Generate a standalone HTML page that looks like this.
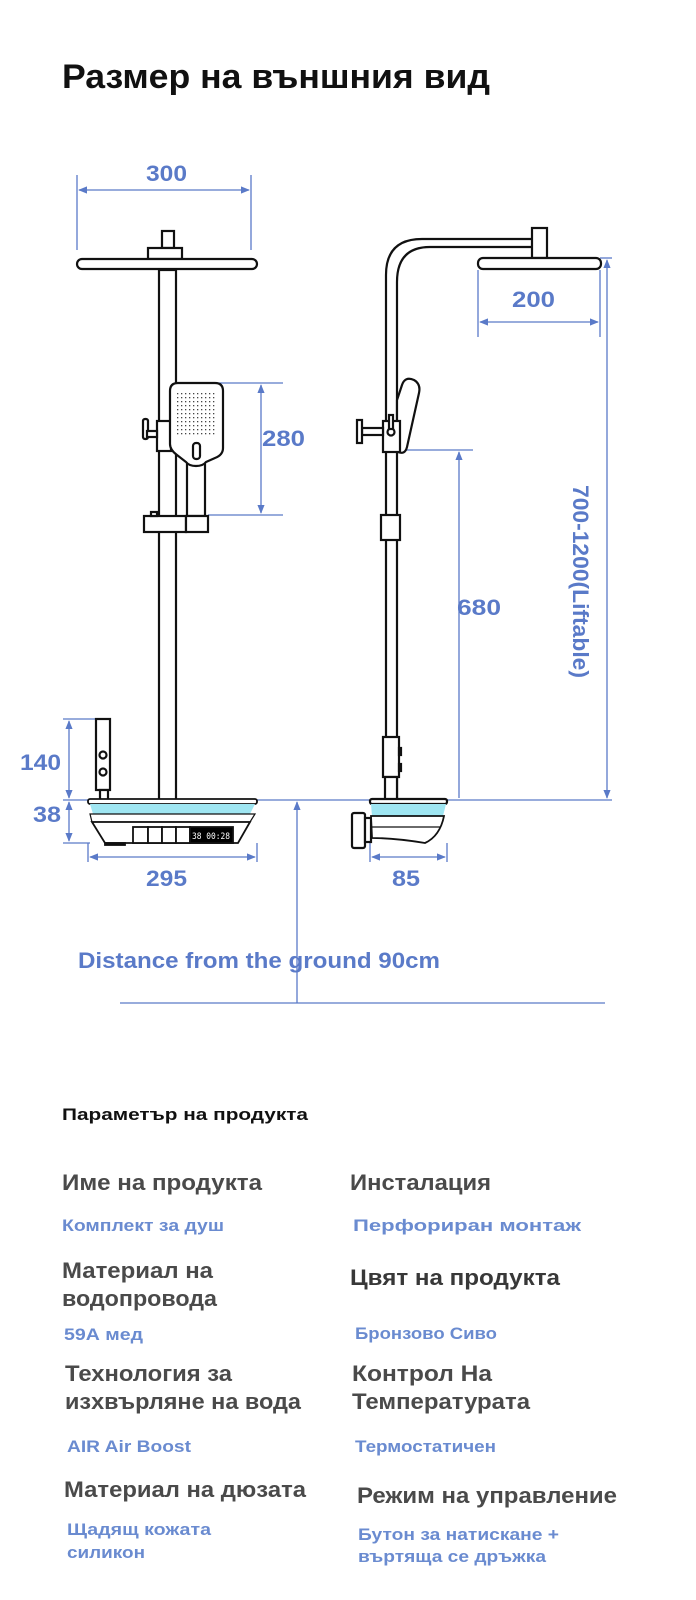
<!DOCTYPE html>
<html><head><meta charset="utf-8"><style>
html,body{margin:0;padding:0;background:#fff;width:696px;height:1600px;overflow:hidden}
svg{display:block}
text{font-family:"Liberation Sans","DejaVu Sans",sans-serif;font-weight:bold}
.d{fill:#5a7ac8;font-size:22px}
.l{fill:#4a4a4a;font-size:22px}
.v{fill:#6a8bd0;font-size:17px}
</style></head><body>
<svg width="696" height="1600" viewBox="0 0 696 1600" xmlns="http://www.w3.org/2000/svg">
<defs>
<marker id="a" viewBox="0 0 10 10" refX="9" refY="5" markerWidth="7" markerHeight="7" orient="auto-start-reverse"><path d="M0,1 L10,5 L0,9 z" fill="#5a7ac8"/></marker>
<pattern id="dots" width="4" height="4" patternUnits="userSpaceOnUse"><rect x="1" y="1" width="1.3" height="1.3" fill="#444"/></pattern>
</defs>
<text x="62" y="88" font-size="34" fill="#111" textLength="428" lengthAdjust="spacingAndGlyphs">Размер на външния вид</text>

<g stroke="#5a7ac8" stroke-width="1.3" fill="none">
<line x1="77" y1="175" x2="77" y2="250"/><line x1="251" y1="175" x2="251" y2="250"/>
<line x1="79" y1="190" x2="249" y2="190" marker-start="url(#a)" marker-end="url(#a)"/>
<line x1="215" y1="383" x2="283" y2="383"/><line x1="208" y1="515" x2="283" y2="515"/>
<line x1="261" y1="385" x2="261" y2="513" marker-start="url(#a)" marker-end="url(#a)"/>
<line x1="63" y1="719" x2="100" y2="719"/><line x1="63" y1="800" x2="90" y2="800"/><line x1="63" y1="843" x2="90" y2="843"/>
<line x1="69" y1="721" x2="69" y2="798" marker-start="url(#a)" marker-end="url(#a)"/>
<line x1="69" y1="802" x2="69" y2="841" marker-start="url(#a)" marker-end="url(#a)"/>
<line x1="88" y1="843" x2="88" y2="862"/><line x1="257" y1="843" x2="257" y2="862"/>
<line x1="90" y1="857" x2="255" y2="857" marker-start="url(#a)" marker-end="url(#a)"/>
<line x1="257" y1="800" x2="612" y2="800"/>
<line x1="297" y1="1003" x2="297" y2="802" marker-end="url(#a)"/>
<line x1="120" y1="1003" x2="605" y2="1003"/>
<line x1="478" y1="270" x2="478" y2="337"/><line x1="600" y1="270" x2="600" y2="337"/>
<line x1="480" y1="322" x2="598" y2="322" marker-start="url(#a)" marker-end="url(#a)"/>
<line x1="600" y1="258" x2="612" y2="258"/>
<line x1="607" y1="260" x2="607" y2="798" marker-start="url(#a)" marker-end="url(#a)"/>
<line x1="400" y1="450" x2="473" y2="450"/>
<line x1="459" y1="452" x2="459" y2="798" marker-start="url(#a)"/>
<line x1="370" y1="843" x2="370" y2="862"/><line x1="447" y1="843" x2="447" y2="862"/>
<line x1="372" y1="857" x2="445" y2="857" marker-start="url(#a)" marker-end="url(#a)"/>
</g>

<g stroke="#111" stroke-width="2.2" fill="#fff">
<rect x="162" y="231" width="12" height="17"/>
<rect x="148" y="248" width="34" height="11"/>
<rect x="77" y="259" width="180" height="10" rx="5"/>
<rect x="159" y="270" width="17" height="530"/>
<rect x="157" y="421" width="14" height="30"/>
<rect x="143" y="419" width="5" height="20" rx="2"/>
<rect x="147" y="431" width="10" height="6"/>
<rect x="187" y="460" width="18" height="56"/>
<path d="M178,383 L215,383 Q223,383 223,391 L223,448 Q223,455 215,458 L206,462 Q203,466 196,466 Q189,466 186,462 L177,455 Q170,450 170,444 L170,391 Q170,383 178,383 Z"/>
<rect x="193" y="443" width="7" height="16" rx="3"/>
<rect x="144" y="516" width="42" height="16"/>
<rect x="186" y="516" width="22" height="16"/>
<rect x="151" y="512" width="6" height="4"/>
<rect x="96" y="719" width="14" height="71"/>
<rect x="100" y="790" width="8" height="10"/>
<circle cx="103" cy="755" r="3.5"/><circle cx="103" cy="772" r="3.5"/>
</g>
<rect x="176" y="391" width="41" height="46" fill="url(#dots)"/>
<g stroke="#111" stroke-width="1.8">
<rect x="88" y="799" width="169" height="5" rx="2" fill="#fff"/>
<path d="M90,804 L255,804 L250,814 L93,814 Z" fill="#9fe6f2" stroke="none"/>
<path d="M90,814 L255,814 L250,822 L92,822 Z" fill="#fff" stroke-width="1.2"/>
<path d="M92,822 L250,822 L238,843 L105,843 Z" fill="#fff"/>
<rect x="133" y="827" width="15" height="16" fill="#fff"/><rect x="148" y="827" width="14" height="16" fill="#fff"/>
<rect x="162" y="827" width="14" height="16" fill="#fff"/><rect x="176" y="827" width="14" height="16" fill="#fff"/>
<rect x="190" y="827" width="43" height="16" fill="#000"/>
<rect x="105" y="843" width="20" height="2" fill="#000"/>
</g>
<text x="192" y="839" font-size="9" fill="#fff" textLength="38" lengthAdjust="spacingAndGlyphs" style="font-weight:normal;font-family:'DejaVu Sans Mono',monospace">38 00:28</text>

<g stroke="#111" stroke-width="2.2" fill="none">
<path d="M386,800 L386,275 Q386,239 422,239 L532,239"/>
<path d="M397,800 L397,282 Q397,247 430,247 L532,247"/>
</g>
<g stroke="#111" stroke-width="2.2" fill="#fff">
<rect x="532" y="228" width="15" height="30"/>
<rect x="478" y="258" width="123" height="11" rx="5"/>
<path d="M402,385 Q405,376 414,380 Q421,384 419,393 L407,447 Q405,455 398,452 L397,450 L397,400 Z"/>
<rect x="383" y="421" width="17" height="31"/>
<circle cx="391" cy="432" r="3.5"/>
<rect x="389" y="415" width="4" height="14"/>
<rect x="362" y="428" width="21" height="7"/>
<rect x="357" y="420" width="5" height="23"/>
<rect x="381" y="515" width="19" height="25"/>
<rect x="383" y="737" width="16" height="40"/>
<rect x="399" y="748" width="2" height="7" fill="#111"/><rect x="399" y="764" width="2" height="7" fill="#111"/>
<rect x="385" y="777" width="12" height="23"/>
<rect x="352" y="813" width="13" height="35" rx="2"/>
<rect x="365" y="818" width="6" height="24"/>
<rect x="370" y="799" width="77" height="5" rx="2"/>
</g>
<path d="M371,804 L446,804 L443,816 L372,816 Z" fill="#9fe6f2"/>
<path d="M371,816 L444,816 Q440,836 425,843 Q395,838 372,838 Z" fill="#fff" stroke="#111" stroke-width="1.8"/>
<line x1="372" y1="827" x2="441" y2="827" stroke="#111" stroke-width="1.2"/>

<text class="d" x="146" y="181" textLength="41" lengthAdjust="spacingAndGlyphs">300</text>
<text class="d" x="262" y="446" textLength="43" lengthAdjust="spacingAndGlyphs">280</text>
<text class="d" x="512" y="307" textLength="43" lengthAdjust="spacingAndGlyphs">200</text>
<text class="d" x="457" y="615" textLength="44" lengthAdjust="spacingAndGlyphs">680</text>
<text class="d" x="20" y="770" textLength="41" lengthAdjust="spacingAndGlyphs">140</text>
<text class="d" x="33" y="822" textLength="28" lengthAdjust="spacingAndGlyphs">38</text>
<text class="d" x="146" y="886" textLength="41" lengthAdjust="spacingAndGlyphs">295</text>
<text class="d" x="392" y="886" textLength="28" lengthAdjust="spacingAndGlyphs">85</text>
<text class="d" transform="translate(573,485) rotate(90)" font-size="20" textLength="193" lengthAdjust="spacingAndGlyphs">700-1200(Liftable)</text>
<text class="d" x="78" y="968" textLength="362" lengthAdjust="spacingAndGlyphs">Distance from the ground 90cm</text>

<text x="62" y="1120" font-size="17" fill="#111" textLength="246" lengthAdjust="spacingAndGlyphs">Параметър на продукта</text>

<text class="l" x="62" y="1190" textLength="200" lengthAdjust="spacingAndGlyphs">Име на продукта</text>
<text class="l" x="350" y="1190" textLength="141" lengthAdjust="spacingAndGlyphs">Инсталация</text>
<text class="v" x="62" y="1231" textLength="162" lengthAdjust="spacingAndGlyphs">Комплект за душ</text>
<text class="v" x="353" y="1231" textLength="228" lengthAdjust="spacingAndGlyphs">Перфориран монтаж</text>

<text class="l" x="62" y="1278" textLength="151" lengthAdjust="spacingAndGlyphs">Материал на</text>
<text class="l" x="62" y="1306" textLength="155" lengthAdjust="spacingAndGlyphs">водопровода</text>
<text class="l" x="350" y="1285" style="fill:#383838" textLength="210" lengthAdjust="spacingAndGlyphs">Цвят на продукта</text>
<text class="v" x="64" y="1340" textLength="79" lengthAdjust="spacingAndGlyphs">59А мед</text>
<text class="v" x="355" y="1339" textLength="142" lengthAdjust="spacingAndGlyphs">Бронзово Сиво</text>

<text class="l" x="65" y="1381" textLength="167" lengthAdjust="spacingAndGlyphs">Технология за</text>
<text class="l" x="65" y="1409" textLength="236" lengthAdjust="spacingAndGlyphs">изхвърляне на вода</text>
<text class="l" x="352" y="1381" textLength="140" lengthAdjust="spacingAndGlyphs">Контрол На</text>
<text class="l" x="352" y="1409" textLength="178" lengthAdjust="spacingAndGlyphs">Температурата</text>
<text class="v" x="67" y="1452" textLength="124" lengthAdjust="spacingAndGlyphs">AIR Air Boost</text>
<text class="v" x="355" y="1452" textLength="141" lengthAdjust="spacingAndGlyphs">Термостатичен</text>

<text class="l" x="64" y="1497" textLength="242" lengthAdjust="spacingAndGlyphs">Материал на дюзата</text>
<text class="l" x="357" y="1503" textLength="260" lengthAdjust="spacingAndGlyphs">Режим на управление</text>
<text class="v" x="67" y="1535" textLength="144" lengthAdjust="spacingAndGlyphs">Щадящ кожата</text>
<text class="v" x="67" y="1558" textLength="78" lengthAdjust="spacingAndGlyphs">силикон</text>
<text class="v" x="358" y="1540" textLength="201" lengthAdjust="spacingAndGlyphs">Бутон за натискане +</text>
<text class="v" x="358" y="1562" textLength="188" lengthAdjust="spacingAndGlyphs">въртяща се дръжка</text>
</svg>
</body></html>
